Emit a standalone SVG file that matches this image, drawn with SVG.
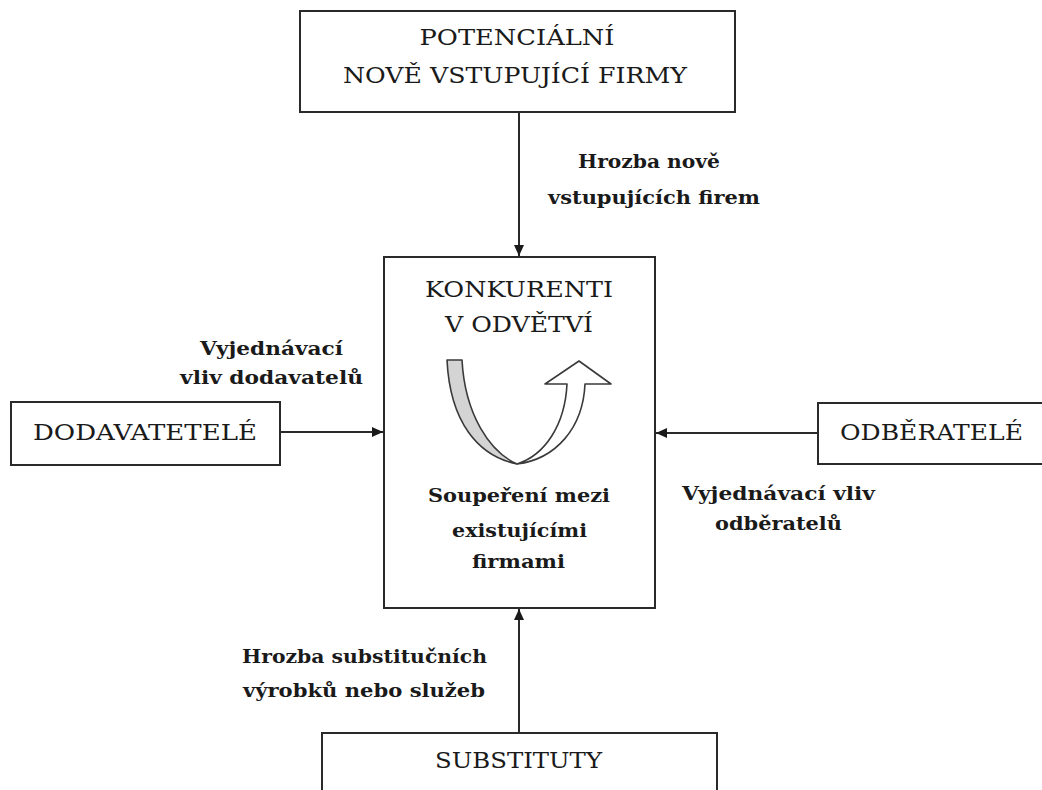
<svg xmlns="http://www.w3.org/2000/svg" width="1042" height="790" viewBox="0 0 1042 790">
<style>
.box{fill:#fff;stroke:#2a2a2a;stroke-width:2}
.t{font-family:"DejaVu Serif","Liberation Serif",serif;font-size:23px;fill:#1a1a1a;text-anchor:middle}
.b{font-family:"DejaVu Serif","Liberation Serif",serif;font-size:19px;font-weight:bold;fill:#1a1a1a;text-anchor:middle}
.c{stroke:#2a2a2a;stroke-width:2;fill:none;marker-end:url(#ah)}
</style>
<defs>
<marker id="ah" markerUnits="userSpaceOnUse" markerWidth="12" markerHeight="10" refX="11" refY="5" orient="auto">
<path d="M0,0 L11,5 L0,10 Z" fill="#1a1a1a"/>
</marker>
</defs>
<rect width="1042" height="790" fill="#fff"/>
<g id="connectors">
<path class="c" d="M519,112 V256"/>
<path class="c" d="M280,432 H383"/>
<path class="c" d="M818,433 H656"/>
<path class="c" d="M519,733 V609"/>
</g>
<g id="potencialni">
<rect class="box" x="300" y="11" width="435" height="101"/>
<text class="t" x="517" y="45" textLength="195" lengthAdjust="spacingAndGlyphs">POTENCIÁLNÍ</text>
<text class="t" x="515" y="83" textLength="344" lengthAdjust="spacingAndGlyphs">NOVĚ VSTUPUJÍCÍ FIRMY</text>
</g>
<g id="konkurenti">
<rect class="box" x="384" y="257" width="271" height="351"/>
<text class="t" x="519" y="297" textLength="188" lengthAdjust="spacingAndGlyphs">KONKURENTI</text>
<text class="t" x="519" y="332" textLength="148" lengthAdjust="spacingAndGlyphs">V ODVĚTVÍ</text>
<path d="M447,360 L462,360 C465,415 490,452 517,464 C478,456 450,422 447,360 Z" fill="#d4d4d4" stroke="#3a3a3a" stroke-width="1.6" stroke-linejoin="round"/>
<path d="M517,464 C545,455 565,425 567,384 L545,384 L579,361 L611,384 L585,384 C583,428 556,459 517,464 Z" fill="#fff" stroke="#3a3a3a" stroke-width="1.6" stroke-linejoin="round"/>
<text class="b" x="519" y="502" textLength="182" lengthAdjust="spacingAndGlyphs">Soupeření mezi</text>
<text class="b" x="519.5" y="537" textLength="135" lengthAdjust="spacingAndGlyphs">existujícími</text>
<text class="b" x="518.5" y="568" textLength="93" lengthAdjust="spacingAndGlyphs">firmami</text>
</g>
<g id="dodavatele">
<rect class="box" x="11" y="402" width="269" height="63"/>
<text class="t" x="145" y="440" textLength="224" lengthAdjust="spacingAndGlyphs">DODAVATETELÉ</text>
</g>
<g id="odberatele">
<rect class="box" x="818" y="403" width="240" height="61"/>
<text class="t" x="931.5" y="440" textLength="183" lengthAdjust="spacingAndGlyphs">ODBĚRATELÉ</text>
</g>
<g id="substituty">
<rect class="box" x="322" y="733" width="395" height="80"/>
<text class="t" x="518.5" y="768" textLength="167" lengthAdjust="spacingAndGlyphs">SUBSTITUTY</text>
</g>
<g id="labels">
<text class="b" x="649" y="168" textLength="142" lengthAdjust="spacingAndGlyphs">Hrozba nově</text>
<text class="b" x="654" y="204" textLength="212" lengthAdjust="spacingAndGlyphs">vstupujících firem</text>
<text class="b" x="271.5" y="355" textLength="143" lengthAdjust="spacingAndGlyphs">Vyjednávací</text>
<text class="b" x="271.5" y="384" textLength="183" lengthAdjust="spacingAndGlyphs">vliv dodavatelů</text>
<text class="b" x="778.5" y="500" textLength="193" lengthAdjust="spacingAndGlyphs">Vyjednávací vliv</text>
<text class="b" x="778.5" y="530" textLength="127" lengthAdjust="spacingAndGlyphs">odběratelů</text>
<text class="b" x="364.5" y="663" textLength="245" lengthAdjust="spacingAndGlyphs">Hrozba substitučních</text>
<text class="b" x="364" y="697" textLength="242" lengthAdjust="spacingAndGlyphs">výrobků nebo služeb</text>
</g>
</svg>
